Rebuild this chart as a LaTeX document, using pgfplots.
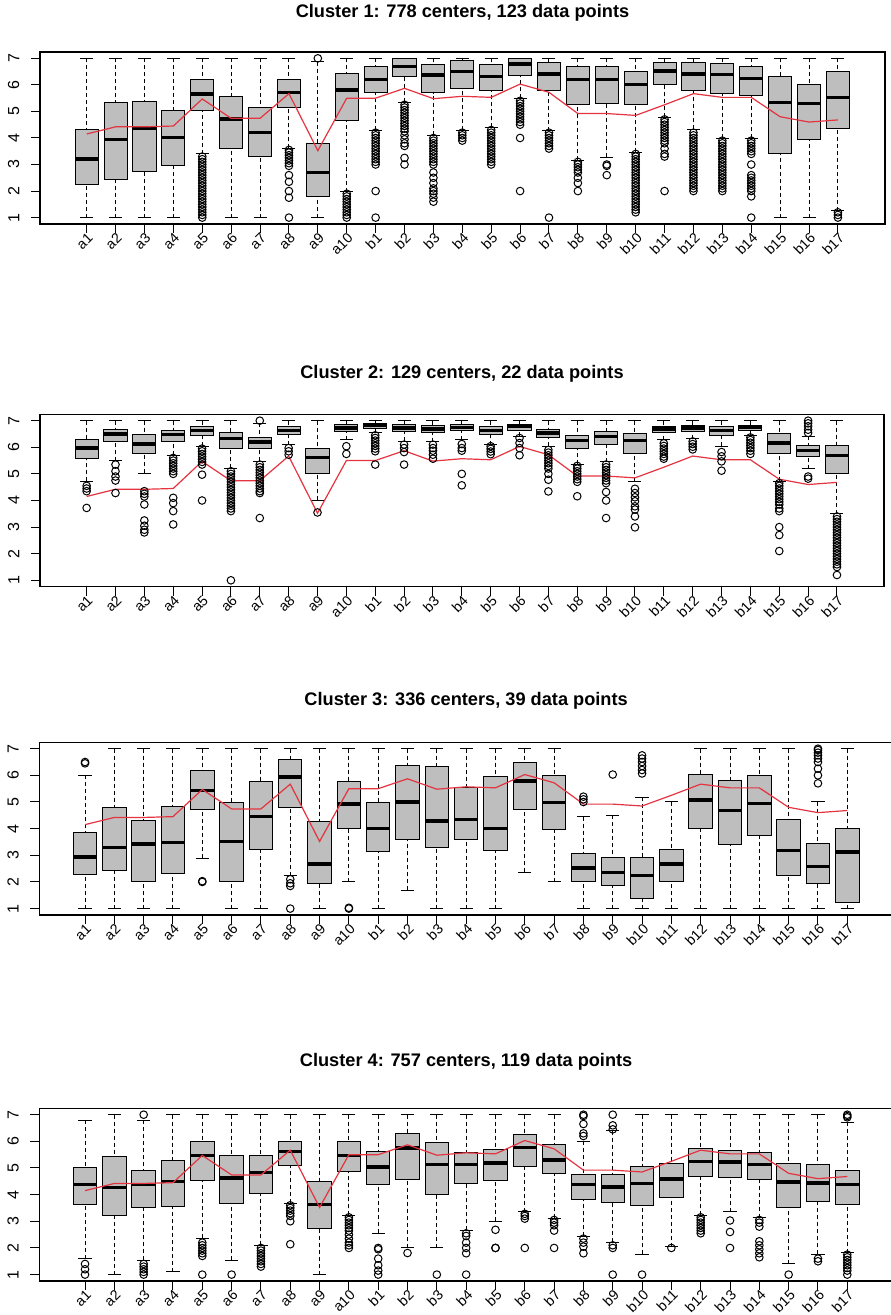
\documentclass[border=0pt]{standalone}
\usepackage{fontspec}
\setmainfont{Liberation Sans}
\usepackage{pgfplots}
\pgfplotsset{compat=1.18}
\usepgfplotslibrary{statistics}
\definecolor{boxgray}{HTML}{BEBEBE}
\definecolor{rline}{rgb}{0.9,0.2,0.25}
\pgfplotsset{
  bxs/.style={draw=black, fill=boxgray, line width=0.5pt, mark=o, mark size=1.9pt, solid},
  boxplot/draw direction=y,
  boxplot/box extend=0.8,
  boxplot/whisker extend=0.45,
  boxplot/every median/.style={line width=1.7pt},
  boxplot/draw/lower whisker/.code={%
    \draw[dash pattern=on 2pt off 1.5pt]
      (boxplot cs:\pgfplotsboxplotvalue{lower whisker})
      -- (boxplot cs:\pgfplotsboxplotvalue{lower quartile});
    \draw[solid]
      (boxplot whisker cs:\pgfplotsboxplotvalue{lower whisker},0)
      -- (boxplot whisker cs:\pgfplotsboxplotvalue{lower whisker},1);
  },
  boxplot/draw/upper whisker/.code={%
    \draw[dash pattern=on 2pt off 1.5pt]
      (boxplot cs:\pgfplotsboxplotvalue{upper whisker})
      -- (boxplot cs:\pgfplotsboxplotvalue{upper quartile});
    \draw[solid]
      (boxplot whisker cs:\pgfplotsboxplotvalue{upper whisker},0)
      -- (boxplot whisker cs:\pgfplotsboxplotvalue{upper whisker},1);
  },
  panel/.style={
    scale only axis, anchor=south west,
    ymin=0.76, ymax=7.24,
    xtick={1,...,27},
    xticklabels={a1,a2,a3,a4,a5,a6,a7,a8,a9,a10,b1,b2,b3,b4,b5,b6,b7,b8,b9,b10,b11,b12,b13,b14,b15,b16,b17},
    ytick={1,2,3,4,5,6,7},
    tick align=outside, tick pos=left, major tick length=4.5pt,
    tick style={black, line width=0.5pt},
    axis line style={line width=0.7pt},
    xticklabel style={rotate=45, anchor=north east, inner sep=0.5pt, font=\fontsize{7.1}{8}\selectfont},
    xticklabel shift=-1.5pt,
    yticklabel style={rotate=90, anchor=south, inner sep=1pt, font=\fontsize{8}{9}\selectfont},
    yticklabel shift=4.6pt,
    /pgf/number format/assume math mode=true,
    title style={font=\bfseries\fontsize{9.1}{10}\selectfont, at={(0.5,1)}, anchor=base},
  },
}
\newcommand{\BX}[6]{\addplot[bxs,boxplot prepared={draw position=#1,lower whisker=#2,lower quartile=#3,median=#4,upper quartile=#5,upper whisker=#6}] coordinates {};}
\newcommand{\BO}[7]{\addplot[bxs,boxplot prepared={draw position=#1,lower whisker=#2,lower quartile=#3,median=#4,upper quartile=#5,upper whisker=#6}] table[row sep=\\,y index=0]{v\\#7\\};}
\newcommand{\RL}{\addplot[rline,line width=0.6pt,mark=none] coordinates {(1,4.15)(2,4.42)(3,4.42)(4,4.45)(5,5.47)(6,4.74)(7,4.74)(8,5.67)(9,3.52)(10,5.5)(11,5.5)(12,5.87)(13,5.48)(14,5.57)(15,5.53)(16,6.03)(17,5.72)(18,4.92)(19,4.92)(20,4.85)(21,5.25)(22,5.67)(23,5.53)(24,5.53)(25,4.8)(26,4.6)(27,4.68)};}
\begin{document}
\begin{tikzpicture}
\path[use as bounding box] (0,0) rectangle (445pt,657.5pt);
% ---------------- Cluster 1
\begin{axis}[panel, at={(20pt,545.5pt)}, width=422.5pt, height=86pt, xmin=-0.616, xmax=28.63,
  title={Cluster 1: 778 centers, 123 data points}, title style={yshift=11.3pt}]
\BX{1}{1}{2.26}{3.21}{4.33}{7}
\BX{2}{1}{2.42}{3.95}{5.33}{7}
\BX{3}{1}{2.73}{4.36}{5.38}{7}
\BX{4}{1}{2.98}{4.01}{5.02}{7}
\BO{5}{3.4}{5.05}{5.66}{6.21}{7}{3.3\\3.2\\3.1\\3.0\\2.9\\2.8\\2.7\\2.6\\2.5\\2.4\\2.3\\2.2\\2.1\\2.0\\1.9\\1.8\\1.7\\1.6\\1.5\\1.4\\1.3\\1.2\\1.1\\1.0}
\BX{6}{1}{3.59}{4.72}{5.58}{7}
\BX{7}{1}{3.3}{4.2}{5.15}{7}
\BO{8}{3.61}{5.15}{5.72}{6.22}{7}{3.55\\3.45\\3.35\\3.25\\3.15\\3.05\\2.95\\2.6\\2.35\\2.0\\1.75\\1.0}
\BO{9}{1}{1.8}{2.71}{3.79}{6.88}{7.0}
\BO{10}{1.98}{4.64}{5.81}{6.44}{7}{1.9\\1.8\\1.7\\1.6\\1.5\\1.4\\1.3\\1.2\\1.1\\1.0}
\BO{11}{4.3}{5.72}{6.21}{6.71}{7}{4.2\\4.1\\4.0\\3.9\\3.8\\3.7\\3.6\\3.5\\3.4\\3.3\\3.2\\3.1\\3.0\\2.0\\1.0}
\BO{12}{5.34}{6.31}{6.69}{7.0}{7.0}{5.25\\5.15\\5.05\\4.95\\4.85\\4.75\\4.65\\4.55\\4.45\\4.35\\4.25\\4.1\\3.95\\3.8\\3.7\\3.25\\3.0}
\BO{13}{4.11}{5.71}{6.37}{6.77}{7}{4.0\\3.9\\3.8\\3.7\\3.6\\3.5\\3.4\\3.3\\3.2\\3.1\\3.0\\2.7\\2.5\\2.3\\2.1\\2.0\\1.9\\1.75\\1.6}
\BO{14}{4.3}{5.85}{6.5}{6.91}{7}{4.2\\4.1\\4.0\\3.9}
\BO{15}{4.4}{5.78}{6.31}{6.77}{7}{4.3\\4.2\\4.1\\4.0\\3.9\\3.8\\3.7\\3.6\\3.5\\3.4\\3.3\\3.2\\3.1\\3.0}
\BO{16}{5.49}{6.37}{6.79}{7.0}{7.0}{5.4\\5.3\\5.2\\5.1\\5.0\\4.9\\4.8\\4.7\\4.6\\4.5\\4.0\\2.0}
\BO{17}{4.28}{5.78}{6.41}{6.85}{7}{4.2\\4.1\\4.0\\3.9\\3.8\\3.7\\3.6\\1.0}
\BO{18}{3.17}{5.27}{6.21}{6.71}{7}{3.1\\3.0\\2.9\\2.8\\2.7\\2.5\\2.3\\2.0}
\BO{19}{3.27}{5.31}{6.21}{6.71}{7}{3.0\\2.95\\2.6}
\BO{20}{3.46}{5.27}{6.02}{6.5}{7}{3.4\\3.3\\3.2\\3.1\\3.0\\2.9\\2.8\\2.7\\2.6\\2.5\\2.4\\2.3\\2.2\\2.1\\2.0\\1.9\\1.8\\1.7\\1.6\\1.5\\1.4\\1.3\\1.2}
\BO{21}{4.78}{6.02}{6.52}{6.85}{7}{4.7\\4.6\\4.5\\4.4\\4.3\\4.2\\4.1\\4.0\\3.9\\3.8\\3.6\\3.4\\3.3\\2.0}
\BO{22}{4.33}{5.78}{6.41}{6.85}{7}{4.2\\4.1\\4.0\\3.9\\3.8\\3.7\\3.6\\3.5\\3.4\\3.3\\3.2\\3.1\\3.0\\2.9\\2.8\\2.7\\2.6\\2.5\\2.4\\2.3\\2.2\\2.1\\2.0}
\BO{23}{3.99}{5.69}{6.4}{6.81}{7}{3.9\\3.8\\3.7\\3.6\\3.5\\3.4\\3.3\\3.2\\3.1\\3.0\\2.9\\2.8\\2.7\\2.6\\2.5\\2.4\\2.3\\2.2\\2.1\\2.0}
\BO{24}{3.99}{5.59}{6.25}{6.71}{7}{3.9\\3.8\\3.7\\3.6\\3.5\\3.4\\3.0\\2.6\\2.5\\2.4\\2.3\\2.2\\2.1\\2.0\\1.8\\1.0}
\BX{25}{1}{3.42}{5.34}{6.33}{7}
\BX{26}{1}{3.95}{5.3}{6.02}{7}
\BO{27}{1.26}{4.36}{5.53}{6.5}{7}{1.2\\1.1\\1.0}
\RL
\end{axis}
% ---------------- Cluster 2
\begin{axis}[panel, at={(20pt,364.15pt)}, width=422pt, height=86.2pt, xmin=-0.616, xmax=28.63,
  title={Cluster 2: 129 centers, 22 data points}, title style={yshift=12pt}]
\BO{1}{4.72}{5.57}{5.97}{6.29}{7}{4.55\\4.45\\4.35\\3.72}
\BO{2}{5.5}{6.2}{6.5}{6.66}{7}{5.35\\5.1\\4.9\\4.75\\4.28}
\BO{3}{5.03}{5.78}{6.12}{6.47}{7}{4.35\\4.25\\4.15\\3.85\\3.25\\3.05\\2.9\\2.8}
\BO{4}{5.7}{6.2}{6.47}{6.62}{7}{5.6\\5.5\\5.4\\5.3\\5.2\\5.1\\5.0\\4.1\\3.9\\3.6\\3.1}
\BO{5}{6.04}{6.45}{6.62}{6.79}{7}{5.95\\5.85\\5.75\\5.65\\5.55\\5.45\\5.35\\4.97\\4.0}
\BO{6}{5.22}{5.97}{6.32}{6.54}{7}{5.1\\5.0\\4.9\\4.8\\4.7\\4.6\\4.5\\4.4\\4.3\\4.2\\4.1\\4.0\\3.9\\3.8\\3.7\\3.6\\1.0}
\BO{7}{5.47}{5.95}{6.2}{6.37}{6.9}{7.0\\5.35\\5.25\\5.15\\5.05\\4.95\\4.85\\4.75\\4.65\\4.55\\4.45\\4.35\\4.28\\3.34}
\BO{8}{6.1}{6.47}{6.62}{6.79}{7}{5.97\\5.85\\5.72}
\BO{9}{4.0}{5.0}{5.62}{5.95}{7}{3.55}
\BO{10}{6.29}{6.6}{6.72}{6.87}{7}{6.04\\5.75}
\BO{11}{6.56}{6.72}{6.82}{6.91}{7}{6.45\\6.35\\6.25\\6.15\\6.05\\5.95\\5.85\\5.35}
\BO{12}{6.22}{6.6}{6.72}{6.85}{7}{6.1\\5.97\\5.82\\5.35}
\BO{13}{6.2}{6.56}{6.69}{6.81}{7}{6.1\\5.97\\5.87\\5.72\\5.57}
\BO{14}{6.29}{6.62}{6.75}{6.85}{7}{6.12\\5.97\\5.87\\5.0\\4.57}
\BO{15}{6.1}{6.47}{6.62}{6.79}{7}{6.04\\5.94\\5.84\\5.74}
\BO{16}{6.41}{6.62}{6.79}{6.87}{7}{6.35\\6.16\\5.97\\5.7}
\BO{17}{6.04}{6.37}{6.54}{6.66}{7}{5.9\\5.8\\5.7\\5.6\\5.5\\5.4\\5.3\\5.2\\5.0\\4.78\\4.34}
\BO{18}{5.37}{5.97}{6.25}{6.44}{7}{5.3\\5.2\\5.1\\5.0\\4.9\\4.8\\4.7\\4.16}
\BO{19}{5.45}{6.12}{6.41}{6.6}{7}{5.35\\5.25\\5.15\\5.05\\4.95\\4.85\\4.75\\4.65\\4.32\\4.0\\3.34}
\BO{20}{4.72}{5.78}{6.25}{6.5}{7}{4.44\\4.28\\4.12\\3.97\\3.78\\3.66\\3.4\\2.99}
\BO{21}{6.29}{6.57}{6.69}{6.79}{7}{6.15\\6.05\\5.95\\5.85\\5.75\\5.65\\5.57}
\BO{22}{6.32}{6.6}{6.72}{6.82}{7}{6.22\\6.12\\6.02\\5.92}
\BO{23}{6.04}{6.45}{6.62}{6.79}{7}{5.82\\5.66\\5.47\\5.12}
\BO{24}{6.45}{6.62}{6.75}{6.82}{7}{6.37\\6.27\\6.17\\6.07\\5.97\\5.87\\5.75}
\BO{25}{4.72}{5.78}{6.16}{6.5}{7}{4.65\\4.55\\4.45\\4.35\\4.25\\4.15\\4.05\\3.95\\3.85\\3.7\\3.6\\3.0\\2.7\\2.1}
\BO{26}{5.2}{5.66}{5.87}{6.07}{6.41}{7.0\\6.9\\6.79\\6.66\\6.54\\4.9\\4.82}
\BO{27}{3.5}{5.0}{5.7}{6.07}{7}{3.4\\3.3\\3.2\\3.1\\3.0\\2.9\\2.8\\2.7\\2.6\\2.5\\2.4\\2.3\\2.2\\2.1\\2.0\\1.9\\1.8\\1.7\\1.6\\1.5\\1.2}
\RL
\end{axis}
% ---------------- Cluster 3
\begin{axis}[panel, at={(19.65pt,200pt)}, width=426.85pt, height=86.35pt, xmin=-0.56, xmax=28.56,
  title={Cluster 3: 336 centers, 39 data points}, title style={yshift=12.5pt}]
\BO{1}{1}{2.27}{2.93}{3.86}{6.0}{6.5\\6.45}
\BX{2}{1}{2.42}{3.3}{4.78}{7}
\BX{3}{1}{2.0}{3.43}{4.3}{7}
\BX{4}{1}{2.33}{3.48}{4.82}{7}
\BO{5}{2.89}{4.72}{5.44}{6.19}{7}{2.0\\2.03}
\BX{6}{1}{2.0}{3.51}{4.98}{7}
\BX{7}{1}{3.2}{4.45}{5.76}{7}
\BO{8}{2.23}{4.8}{5.94}{6.59}{7}{2.1\\1.95\\1.85\\1.0}
\BX{9}{1}{1.93}{2.67}{4.26}{7}
\BO{10}{2.0}{4.01}{4.92}{5.76}{7}{1.0\\1.03}
\BX{11}{1}{3.14}{4.01}{4.98}{7}
\BX{12}{1.68}{3.6}{5.0}{6.38}{7}
\BX{13}{1}{3.3}{4.29}{6.34}{7}
\BX{14}{1}{3.61}{4.35}{5.54}{7}
\BX{15}{1}{3.17}{4.01}{5.97}{7}
\BX{16}{2.37}{4.72}{5.79}{6.5}{7}
\BX{17}{2.0}{3.95}{4.97}{5.98}{7}
\BO{18}{1}{2.0}{2.52}{3.08}{4.45}{5.2\\5.1\\5.0}
\BO{19}{1}{1.86}{2.36}{2.93}{4.51}{6.03}
\BO{20}{1}{1.37}{2.24}{2.93}{5.17}{6.75\\6.63\\6.5\\6.35\\6.2\\6.07}
\BX{21}{1}{2.0}{2.68}{3.2}{5.0}
\BX{22}{1}{4.01}{5.07}{6.04}{7}
\BX{23}{1}{3.41}{4.67}{5.82}{7}
\BX{24}{1}{3.74}{4.95}{5.98}{7}
\BX{25}{1}{2.23}{3.18}{4.36}{7}
\BO{26}{1}{1.96}{2.58}{3.43}{5.0}{7.0\\6.95\\6.85\\6.75\\6.63\\6.5\\6.25\\6.0\\5.7}
\BX{27}{1}{1.21}{3.12}{3.99}{7}
\RL
\end{axis}
% ---------------- Cluster 4
\begin{axis}[panel, at={(19.65pt,17pt)}, width=426.85pt, height=86.35pt, xmin=-0.56, xmax=28.56,
  title={Cluster 4: 757 centers, 119 data points}, title style={yshift=15pt}]
\BO{1}{1.6}{3.63}{4.38}{5.0}{6.8}{1.4\\1.2\\1.0}
\BX{2}{1.0}{3.21}{4.26}{5.43}{7}
\BO{3}{1.54}{3.53}{4.38}{4.9}{6.8}{7.0\\1.4\\1.3\\1.2\\1.1\\1.0}
\BX{4}{1.1}{3.57}{4.5}{5.3}{7}
\BO{5}{2.37}{4.53}{5.47}{5.99}{7}{2.2\\2.1\\2.0\\1.9\\1.8\\1.7\\1.0}
\BO{6}{1.54}{3.68}{4.63}{5.47}{7}{1.0}
\BO{7}{2.1}{4.06}{4.84}{5.47}{7}{2.0\\1.9\\1.8\\1.7\\1.6\\1.5\\1.4\\1.3}
\BO{8}{3.68}{5.09}{5.63}{6.0}{7}{3.6\\3.5\\3.4\\3.3\\3.2\\3.0\\2.14}
\BX{9}{1}{2.72}{3.63}{4.49}{7}
\BO{10}{3.22}{4.88}{5.47}{6.0}{7}{3.15\\3.05\\2.95\\2.85\\2.75\\2.65\\2.5\\2.35\\2.2\\2.1\\2.0}
\BO{11}{2.56}{4.38}{5.03}{5.63}{7}{2.0\\1.95\\1.6\\1.35\\1.15\\1.0}
\BO{12}{2.0}{4.56}{5.75}{6.3}{7}{1.81}
\BO{13}{2.0}{4.0}{5.13}{5.94}{7}{1.0}
\BO{14}{2.66}{4.43}{5.13}{5.59}{7}{2.55\\2.45\\2.2\\2.0\\1.8\\1.0}
\BO{15}{3.01}{4.53}{5.18}{5.68}{7}{2.68\\2.0\\2.0}
\BO{16}{3.35}{5.05}{5.78}{6.24}{7}{3.28\\3.2\\3.1\\2.0}
\BO{17}{3.12}{4.78}{5.3}{5.9}{7}{3.05\\2.95\\2.85\\2.65\\2.0}
\BO{18}{2.43}{3.82}{4.37}{4.75}{6.0}{7.0\\6.95\\6.65\\6.3\\6.2\\2.35\\2.2\\2.05\\1.8}
\BO{19}{2.22}{3.69}{4.28}{4.75}{6.4}{7.0\\6.6\\6.45\\2.1\\2.0\\1.0}
\BO{20}{1.76}{3.59}{4.41}{5.05}{7}{1.0}
\BO{21}{2.04}{3.91}{4.59}{5.18}{7}{2.0}
\BO{22}{3.22}{4.68}{5.25}{5.72}{7}{3.15\\3.05\\2.95\\2.85\\2.75\\2.65\\2.55}
\BO{23}{3.35}{4.63}{5.22}{5.65}{7}{3.03\\2.6\\2.0}
\BO{24}{3.13}{4.56}{5.13}{5.59}{7}{3.05\\2.95\\2.8\\2.25\\2.1\\1.95\\1.8\\1.65}
\BO{25}{1.41}{3.53}{4.47}{5.18}{7}{1.0}
\BO{26}{1.76}{3.74}{4.43}{5.12}{7}{1.6\\1.5}
\BO{27}{1.82}{3.63}{4.37}{4.9}{6.71}{7.0\\6.95\\6.9\\1.75\\1.65\\1.55\\1.45\\1.35\\1.25\\1.15\\1.0}
\RL
\end{axis}
\end{tikzpicture}
\end{document}
